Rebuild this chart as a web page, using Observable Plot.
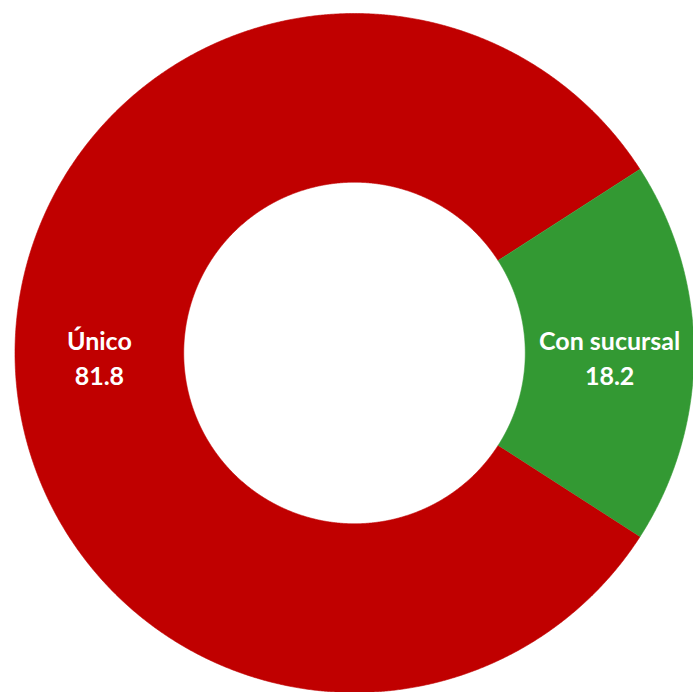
<!DOCTYPE html>
<html>
<head>
<meta charset="utf-8">
<script src="https://cdn.jsdelivr.net/npm/d3@7"></script>
<script src="https://cdn.jsdelivr.net/npm/@observablehq/plot@0.6"></script>
<style>
  html, body { margin: 0; padding: 0; background: #ffffff; }
  #chart { width: 693px; height: 692px; }
</style>
</head>
<body>
<div id="chart"></div>
<script>
// Data
const categories = ["Único", "Con sucursal"];
const values = [81.8, 18.2];
const valueLabels = ["81.8", "18.2"];
const colors = ["#C00000", "#339933"];

// Geometry (donut in unit coordinates)
const W = 693, H = 692;
const cx = 354, cy = 352.5, R = 339.5; // pixel centre and outer radius
const innerRatio = 0.503;
const total = d3.sum(values);
// Last slice centred on the right (angle 0), slices go counter-clockwise
let start = Math.PI * values[values.length - 1] / total;
const slices = values.map((v, i) => {
  const a0 = start, a1 = start + 2 * Math.PI * v / total;
  start = a1;
  return {cat: categories[i], value: v, label: valueLabels[i], a0, a1};
});

const pts = [];
for (const s of slices) {
  const n = Math.max(2, Math.ceil((s.a1 - s.a0) / (Math.PI / 720)));
  for (let k = 0; k <= n; k++) {
    const a = s.a0 + (s.a1 - s.a0) * k / n;
    pts.push({cat: s.cat, x: Math.cos(a), y: Math.sin(a)});
  }
  for (let k = n; k >= 0; k--) {
    const a = s.a0 + (s.a1 - s.a0) * k / n;
    pts.push({cat: s.cat, x: innerRatio * Math.cos(a), y: innerRatio * Math.sin(a)});
  }
}

const labelR = (1 + innerRatio) / 2;
const labels = slices.map(s => {
  const m = (s.a0 + s.a1) / 2;
  return {cat: s.cat, text: s.cat + "\n" + s.label, x: labelR * Math.cos(m), y: labelR * Math.sin(m)};
});

const chart = Plot.plot({
  width: W,
  height: H,
  margin: 0,
  x: {domain: [-cx / R, (W - cx) / R], axis: null},
  y: {domain: [-(H - cy) / R, cy / R], axis: null},
  color: {domain: categories, range: colors},
  marks: [
    Plot.line(pts, {x: "x", y: "y", z: "cat", fill: "cat", stroke: "cat", strokeWidth: 0.6, curve: "linear"}),
    Plot.text(labels, {
      x: "x", y: "y", text: "text",
      fill: "white", fontSize: 25, fontWeight: "bold",
      fontFamily: "Lato, 'Open Sans', sans-serif",
      lineHeight: 1.42, dy: 3
    })
  ],
  style: {background: "white", overflow: "visible"}
});
document.getElementById("chart").appendChild(chart);
</script>
</body>
</html>
